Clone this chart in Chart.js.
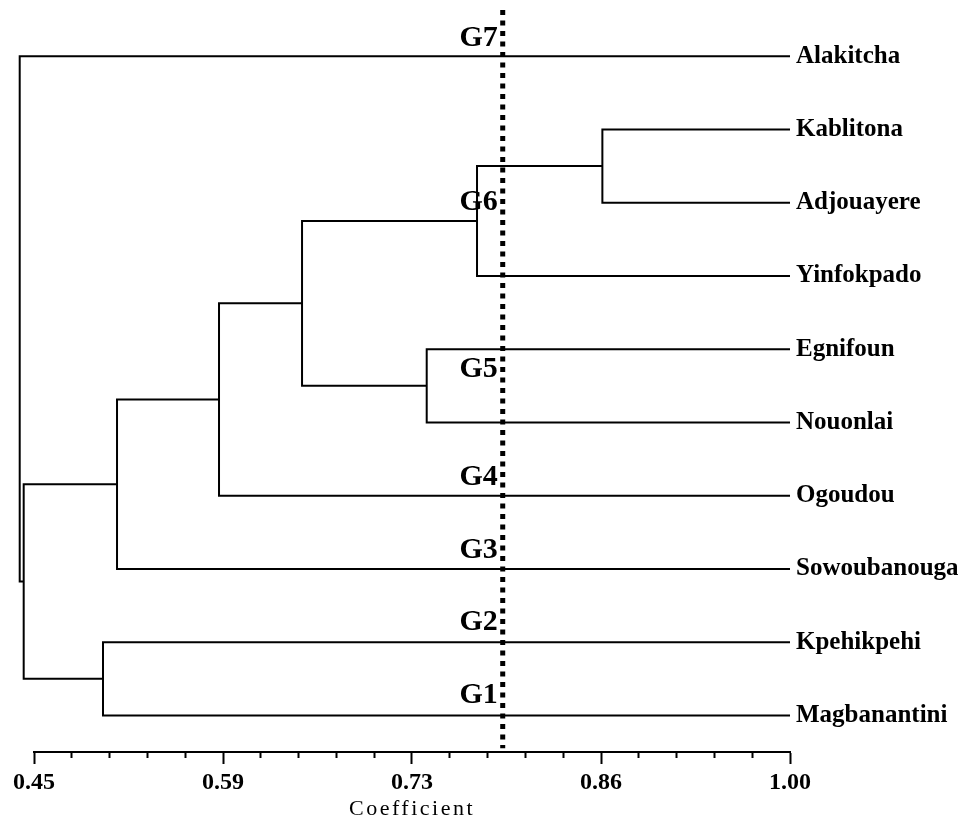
<!DOCTYPE html>
<html>
<head>
<meta charset="utf-8">
<script src="https://cdn.jsdelivr.net/npm/chart.js@4/dist/chart.umd.min.js"></script>
<style>
  html, body { margin: 0; padding: 0; background: #ffffff; }
  #wrap { width: 958px; height: 824px; }
</style>
</head>
<body>
<div id="wrap"><canvas id="c" width="958" height="824"></canvas></div>
<script>
// ---- data ----
const leafNames = ['Alakitcha', 'Kablitona', 'Adjouayere', 'Yinfokpado', 'Egnifoun',
                   'Nouonlai', 'Ogoudou', 'Sowoubanouga', 'Kpehikpehi', 'Magbanantini'];
// merges: cluster ids 0..9 are leaves, 10+ are previous merges (in order)
const mergeA      = [1, 10, 4, 11, 13, 14, 8, 15, 0];
const mergeB      = [2, 3, 5, 12, 6, 7, 9, 16, 17];
const mergeHeight = [0.8635, 0.7723, 0.7357, 0.6450, 0.5846, 0.5104, 0.5002, 0.4425, 0.4396];
const cutoff = 0.791;
const groupLabels = ['G1', 'G2', 'G3', 'G4', 'G5', 'G6', 'G7'];
const groupLevel  = [8.83, 7.83, 6.85, 5.86, 4.38, 2.10, -0.14];
const majorTicks = [0.45, 0.5875, 0.725, 0.8625, 1.00];
const tickLabels = ['0.45', '0.59', '0.73', '0.86', '1.00'];
const leafCoefficient = 1.00;

// ---- build dendrogram segments ----
const nodeX = [], nodeY = [];
leafNames.forEach((n, i) => { nodeX.push(leafCoefficient); nodeY.push(i); });
const treeSets = [];
mergeHeight.forEach((h, k) => {
  const a = mergeA[k], b = mergeB[k];
  treeSets.push({
    data: [
      {x: nodeX[a], y: nodeY[a]}, {x: h, y: nodeY[a]},
      {x: h, y: nodeY[b]}, {x: nodeX[b], y: nodeY[b]}
    ],
    borderColor: '#000', borderWidth: 2, showLine: true, pointRadius: 0,
    fill: false, tension: 0, clip: false
  });
  nodeX.push(h); nodeY.push((nodeY[a] + nodeY[b]) / 2);
});

const yTop = -0.63, yBottom = 9.5;
const cutSet = {
  data: [{x: cutoff, y: yTop}, {x: cutoff, y: 9.45}],
  borderColor: '#000', borderWidth: 5, borderDash: [5, 5.5], showLine: true,
  pointRadius: 0, fill: false, clip: false
};

const allTicks = [];
for (let i = 0; i < majorTicks.length - 1; i++) {
  for (let j = 0; j < 5; j++) allTicks.push(majorTicks[i] + (majorTicks[i + 1] - majorTicks[i]) * j / 5);
}
allTicks.push(majorTicks[majorTicks.length - 1]);

const serif = "'Liberation Serif', 'Times New Roman', serif";

const groupLabelPlugin = {
  id: 'groupLabels',
  afterDatasetsDraw(chart) {
    const ctx = chart.ctx, xs = chart.scales.x, ys = chart.scales.y;
    ctx.save();
    ctx.font = 'bold 30px ' + serif;
    ctx.fillStyle = '#000';
    ctx.textAlign = 'right';
    ctx.textBaseline = 'alphabetic';
    const px = xs.getPixelForValue(cutoff) - 5;
    groupLabels.forEach((g, i) => ctx.fillText(g, px, ys.getPixelForValue(groupLevel[i])));
    ctx.restore();
  }
};

const spacingPlugin = {
  id: 'titleSpacing',
  beforeDraw(chart) {
    const xs = chart.scales.x;
    if (xs && !xs._spacedTitle) {
      const orig = xs.drawTitle.bind(xs);
      xs.drawTitle = function () {
        const ctx = this.ctx;
        const prev = ctx.letterSpacing;
        ctx.letterSpacing = '2.5px';
        orig();
        ctx.letterSpacing = prev || '0px';
      };
      xs._spacedTitle = true;
    }
  }
};

new Chart(document.getElementById('c'), {
  type: 'scatter',
  data: { datasets: [...treeSets, cutSet] },
  options: {
    responsive: false,
    animation: false,
    events: [],
    layout: { padding: { left: 34, right: 0, top: 10, bottom: 0 } },
    plugins: { legend: { display: false }, tooltip: { enabled: false } },
    scales: {
      x: {
        type: 'linear', position: 'bottom', min: 0.45, max: 1.0,
        afterBuildTicks: (s) => { s.ticks = allTicks.map(v => ({value: v})); },
        afterFit: (s) => { s.height = 72; s.paddingLeft = 0; s.paddingRight = 0; },
        border: { display: true, color: '#000', width: 2 },
        grid: {
          display: true, drawOnChartArea: false, drawTicks: true, tickLength: 12,
          tickColor: '#000', tickWidth: 2,
          tickBorderDash: (c) => (c.index % 5 === 0 ? [] : [5, 100])
        },
        ticks: {
          autoSkip: false, maxRotation: 0, padding: 4, color: '#000',
          font: { family: serif, size: 24, weight: 'bold' },
          callback: (v, i) => (i % 5 === 0 ? tickLabels[i / 5] : '')
        },
        title: {
          display: true, text: 'Coefficient', color: '#000',
          font: { family: serif, size: 22, weight: 'normal' },
          padding: { top: 0, bottom: 2 }
        }
      },
      y: {
        type: 'linear', position: 'right', reverse: true, min: yTop, max: yBottom,
        afterBuildTicks: (s) => { s.ticks = leafNames.map((n, i) => ({value: i})); },
        afterFit: (s) => { s.width = 168; s.paddingTop = 0; s.paddingBottom = 0; },
        border: { display: false },
        grid: { display: false, drawTicks: false },
        ticks: {
          autoSkip: false, padding: 6, color: '#000', crossAlign: 'near',
          font: { family: serif, size: 25, weight: 'bold' },
          callback: (v) => leafNames[v]
        }
      }
    }
  },
  plugins: [groupLabelPlugin, spacingPlugin]
});
</script>
</body>
</html>
